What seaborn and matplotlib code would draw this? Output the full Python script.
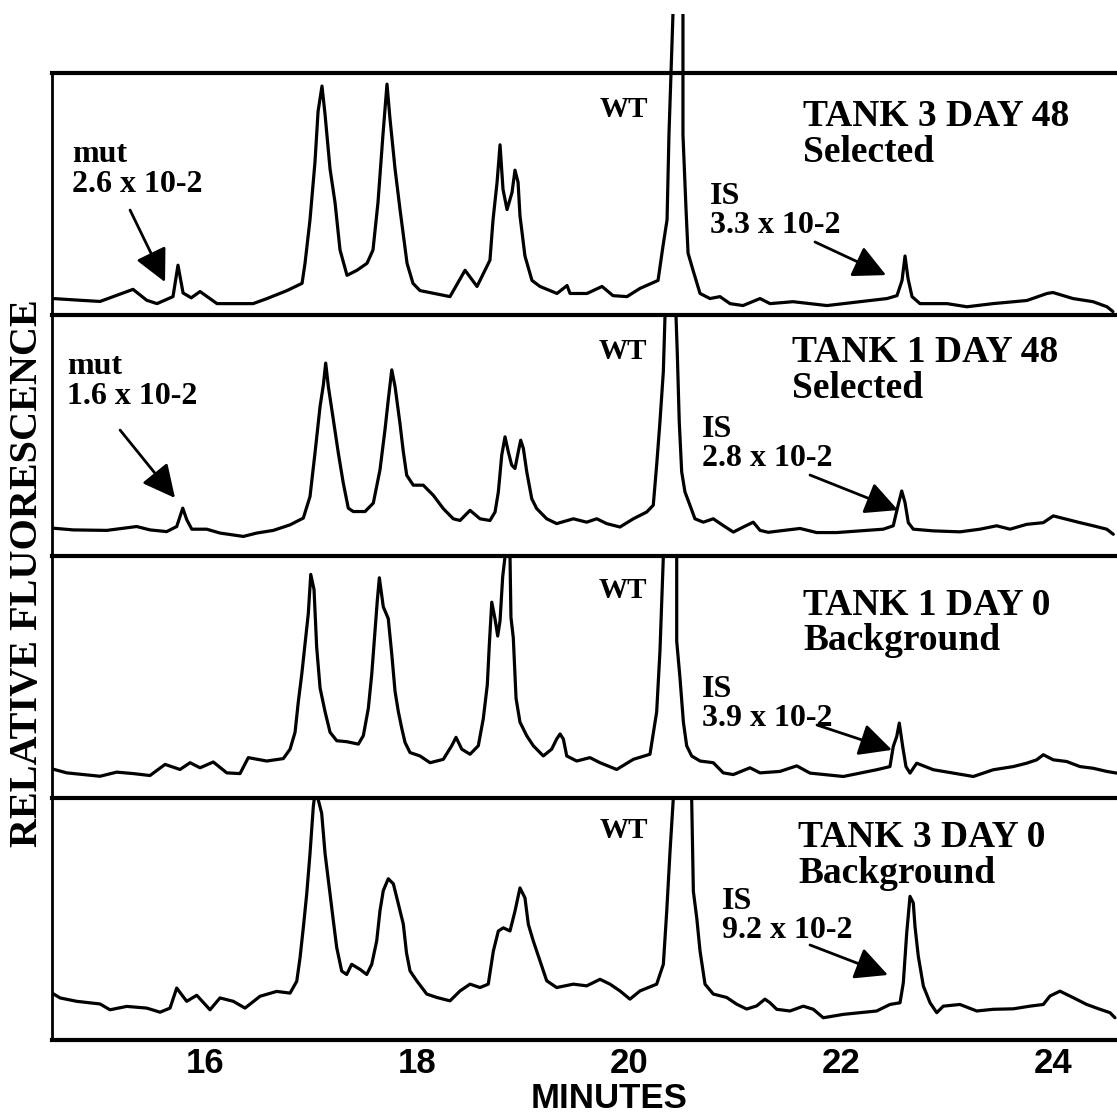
import matplotlib
matplotlib.use("Agg")
import matplotlib.pyplot as plt
import seaborn as sns
import pandas as pd
from matplotlib.transforms import Bbox, TransformedBbox

sns.set_theme(style="white")
plt.rcParams["font.family"] = ["Liberation Serif", "DejaVu Serif"]
plt.rcParams["text.color"] = "black"
plt.rcParams["xtick.color"] = "black"
plt.rcParams["xtick.labelcolor"] = "black"

# ---------------- data (minutes, relative fluorescence as fraction of panel) -------------
t1_min = [14.567, 14.82, 15.01, 15.321, 15.45, 15.547, 15.698, 15.745, 15.793, 15.87, 15.953,
          16.113, 16.453, 16.585, 16.773, 16.915, 16.943, 16.99, 17.037, 17.066, 17.103, 17.132,
          17.179, 17.226, 17.273, 17.339, 17.433, 17.528, 17.584, 17.631, 17.678, 17.716, 17.744,
          17.792, 17.839, 17.905, 17.961, 18.027, 18.31, 18.452, 18.565, 18.687, 18.716, 18.754,
          18.782, 18.81, 18.848, 18.895, 18.923, 18.952, 18.97, 19.017, 19.083, 19.159, 19.319,
          19.414, 19.442, 19.602, 19.744, 19.847, 19.979, 20.102, 20.272, 20.319, 20.357, 20.375,
          20.413, 20.46, 20.507, 20.507, 20.536, 20.555, 20.602, 20.668, 20.762, 20.856, 20.951,
          21.073, 21.234, 21.328, 21.545, 21.865, 22.176, 22.431, 22.525, 22.573, 22.601, 22.629,
          22.667, 22.742, 22.997, 23.185, 23.43, 23.751, 23.94, 23.996, 24.185, 24.374, 24.506,
          24.562]
t1_sig = [0.067, 0.06, 0.055, 0.105, 0.06, 0.046, 0.075, 0.205, 0.09, 0.07, 0.096,
          0.046, 0.046, 0.067, 0.10, 0.13, 0.213, 0.393, 0.632, 0.841, 0.946, 0.828,
          0.603, 0.464, 0.268, 0.163, 0.184, 0.213, 0.268, 0.464, 0.745, 0.954, 0.812,
          0.603, 0.435, 0.213, 0.130, 0.10, 0.075, 0.184, 0.117, 0.226, 0.393, 0.548,
          0.703, 0.519, 0.435, 0.506, 0.598, 0.548, 0.410, 0.243, 0.142, 0.117, 0.088,
          0.121, 0.088, 0.088, 0.117, 0.079, 0.075, 0.109, 0.142, 0.285, 0.393, 0.745,
          1.247, 1.6, 1.247, 0.745, 0.435, 0.255, 0.184, 0.088, 0.067, 0.075, 0.046,
          0.038, 0.067, 0.046, 0.054, 0.038, 0.054, 0.067, 0.079, 0.142, 0.243, 0.151,
          0.075, 0.046, 0.046, 0.033, 0.046, 0.059, 0.088, 0.092, 0.067, 0.054, 0.033,
          0.013]

t2_min = [14.570, 14.758, 15.073, 15.356, 15.481, 15.639, 15.733, 15.790, 15.828, 15.875, 16.016,
          16.141, 16.361, 16.488, 16.644, 16.802, 16.927, 16.990, 17.037, 17.085, 17.116, 17.138,
          17.163, 17.210, 17.257, 17.304, 17.351, 17.398, 17.509, 17.587, 17.650, 17.697, 17.728,
          17.761, 17.792, 17.839, 17.870, 17.902, 17.964, 18.058, 18.153, 18.247, 18.341, 18.405,
          18.499, 18.593, 18.687, 18.735, 18.766, 18.798, 18.829, 18.860, 18.892, 18.923, 18.954,
          18.977, 19.002, 19.034, 19.081, 19.128, 19.222, 19.316, 19.473, 19.599, 19.694, 19.788,
          19.913, 20.039, 20.165, 20.227, 20.259, 20.290, 20.322, 20.338, 20.39, 20.441, 20.454,
          20.472, 20.495, 20.526, 20.573, 20.620, 20.699, 20.793, 20.887, 20.982, 21.076, 21.170,
          21.234, 21.312, 21.422, 21.611, 21.768, 21.956, 22.176, 22.396, 22.490, 22.538, 22.570,
          22.601, 22.632, 22.679, 22.868, 23.119, 23.308, 23.465, 23.591, 23.748, 23.905, 23.999,
          24.125, 24.251, 24.376, 24.503, 24.565]
t2_sig = [0.117, 0.110, 0.108, 0.124, 0.110, 0.103, 0.124, 0.200, 0.152, 0.113, 0.113,
          0.097, 0.083, 0.097, 0.108, 0.131, 0.159, 0.248, 0.428, 0.621, 0.710, 0.800,
          0.703, 0.566, 0.428, 0.303, 0.200, 0.186, 0.186, 0.221, 0.359, 0.524, 0.648,
          0.772, 0.703, 0.548, 0.433, 0.336, 0.295, 0.295, 0.253, 0.198, 0.156, 0.149,
          0.191, 0.156, 0.149, 0.184, 0.267, 0.419, 0.495, 0.433, 0.378, 0.364, 0.433,
          0.481, 0.447, 0.350, 0.239, 0.198, 0.156, 0.136, 0.156, 0.142, 0.156, 0.136,
          0.122, 0.156, 0.184, 0.212, 0.378, 0.557, 0.765, 1.0, 1.6, 1.0, 0.834,
          0.557, 0.350, 0.267, 0.212, 0.156, 0.142, 0.156, 0.128, 0.101, 0.122, 0.142,
          0.108, 0.100, 0.106, 0.116, 0.099, 0.099, 0.106, 0.113, 0.127, 0.216, 0.271,
          0.223, 0.140, 0.113, 0.106, 0.102, 0.113, 0.127, 0.113, 0.133, 0.140, 0.168,
          0.154, 0.140, 0.127, 0.113, 0.092]

t3_min = [14.554, 14.696, 14.853, 15.010, 15.167, 15.324, 15.481, 15.623, 15.764, 15.859, 15.953,
          16.078, 16.205, 16.330, 16.408, 16.582, 16.738, 16.802, 16.849, 16.880, 16.912, 16.943,
          16.974, 16.997, 17.028, 17.053, 17.085, 17.132, 17.179, 17.242, 17.336, 17.446, 17.493,
          17.540, 17.572, 17.603, 17.625, 17.644, 17.681, 17.728, 17.761, 17.792, 17.823, 17.855,
          17.886, 17.933, 18.027, 18.122, 18.247, 18.326, 18.367, 18.421, 18.499, 18.577, 18.624,
          18.662, 18.681, 18.704, 18.735, 18.760, 18.782, 18.807, 18.829, 18.85, 18.876, 18.885,
          18.907, 18.933, 18.970, 19.033, 19.096, 19.190, 19.269, 19.316, 19.348, 19.379, 19.411,
          19.505, 19.630, 19.725, 19.882, 20.039, 20.196, 20.259, 20.290, 20.322, 20.385, 20.448,
          20.448, 20.479, 20.511, 20.542, 20.589, 20.668, 20.793, 20.887, 20.982, 21.139, 21.234,
          21.422, 21.580, 21.705, 21.862, 22.019, 22.176, 22.334, 22.459, 22.490, 22.523, 22.547,
          22.579, 22.610, 22.648, 22.711, 22.868, 23.056, 23.245, 23.434, 23.622, 23.748, 23.843,
          23.905, 23.999, 24.125, 24.251, 24.376, 24.503, 24.597]
t3_sig = [0.122, 0.105, 0.098, 0.091, 0.108, 0.102, 0.094, 0.140, 0.119, 0.147, 0.126,
          0.150, 0.105, 0.102, 0.168, 0.154, 0.164, 0.203, 0.273, 0.400, 0.512, 0.638,
          0.764, 0.926, 0.863, 0.624, 0.456, 0.358, 0.273, 0.238, 0.234, 0.224, 0.259,
          0.372, 0.512, 0.694, 0.820, 0.912, 0.792, 0.743, 0.596, 0.442, 0.358, 0.290,
          0.231, 0.189, 0.175, 0.147, 0.161, 0.217, 0.252, 0.203, 0.182, 0.217, 0.329,
          0.469, 0.636, 0.811, 0.741, 0.671, 0.734, 0.916, 1.0, 1.3, 1.0, 0.748,
          0.664, 0.413, 0.315, 0.259, 0.217, 0.175, 0.203, 0.245, 0.266, 0.245, 0.175,
          0.154, 0.168, 0.147, 0.119, 0.161, 0.182, 0.357, 0.608, 1.0, 1.6, 1.0,
          0.650, 0.497, 0.315, 0.217, 0.175, 0.154, 0.147, 0.105, 0.098, 0.126, 0.105,
          0.111, 0.134, 0.104, 0.097, 0.090, 0.104, 0.118, 0.131, 0.214, 0.256, 0.311,
          0.214, 0.131, 0.104, 0.145, 0.118, 0.104, 0.090, 0.118, 0.131, 0.145, 0.159,
          0.180, 0.159, 0.152, 0.131, 0.124, 0.111, 0.104]

t4_min = [14.532, 14.633, 14.790, 15.010, 15.104, 15.262, 15.450, 15.576, 15.670, 15.733, 15.827,
          15.922, 16.047, 16.141, 16.267, 16.377, 16.519, 16.676, 16.802, 16.865, 16.896, 16.927,
          16.959, 16.990, 17.021, 17.045, 17.068, 17.100, 17.132, 17.179, 17.210, 17.242, 17.289,
          17.336, 17.383, 17.462, 17.525, 17.572, 17.619, 17.650, 17.681, 17.728, 17.776, 17.823,
          17.870, 17.90, 17.933, 17.996, 18.091, 18.185, 18.310, 18.405, 18.499, 18.593, 18.671,
          18.719, 18.766, 18.813, 18.876, 18.923, 18.970, 19.017, 19.049, 19.096, 19.159, 19.222,
          19.316, 19.473, 19.599, 19.725, 19.819, 19.913, 20.007, 20.102, 20.259, 20.322, 20.354,
          20.385, 20.416, 20.50, 20.589, 20.605, 20.637, 20.668, 20.715, 20.793, 20.919, 21.014,
          21.108, 21.202, 21.280, 21.328, 21.391, 21.516, 21.642, 21.736, 21.830, 22.019, 22.176,
          22.334, 22.459, 22.554, 22.585, 22.617, 22.648, 22.679, 22.695, 22.726, 22.774, 22.837,
          22.900, 22.962, 23.119, 23.277, 23.434, 23.622, 23.779, 23.905, 23.968, 24.062, 24.188,
          24.314, 24.440, 24.534, 24.581]
t4_sig = [0.201, 0.174, 0.160, 0.149, 0.125, 0.139, 0.132, 0.115, 0.132, 0.215, 0.160,
          0.185, 0.125, 0.174, 0.160, 0.132, 0.181, 0.201, 0.194, 0.243, 0.340, 0.465,
          0.604, 0.771, 0.965, 1.05, 0.993, 0.938, 0.771, 0.604, 0.493, 0.382, 0.285,
          0.271, 0.313, 0.292, 0.271, 0.313, 0.410, 0.535, 0.618, 0.667, 0.646, 0.563,
          0.479, 0.360, 0.286, 0.245, 0.190, 0.176, 0.162, 0.203, 0.231, 0.217, 0.231,
          0.368, 0.451, 0.464, 0.451, 0.533, 0.629, 0.588, 0.478, 0.409, 0.327, 0.245,
          0.217, 0.231, 0.224, 0.251, 0.231, 0.203, 0.169, 0.203, 0.231, 0.313, 0.533,
          0.780, 1.0, 1.6, 1.0, 0.615, 0.505, 0.368, 0.231, 0.190, 0.176, 0.148,
          0.128, 0.141, 0.169, 0.154, 0.127, 0.120, 0.140, 0.127, 0.092, 0.106, 0.113,
          0.120, 0.147, 0.154, 0.237, 0.443, 0.594, 0.567, 0.470, 0.347, 0.223, 0.154,
          0.113, 0.140, 0.147, 0.120, 0.127, 0.129, 0.140, 0.147, 0.182, 0.202, 0.175,
          0.147, 0.127, 0.113, 0.092]

panel_titles = ["TANK 3 DAY 48\nSelected", "TANK 1 DAY 48\nSelected",
                "TANK 1 DAY 0\nBackground", "TANK 3 DAY 0\nBackground"]
is_labels = ["IS\n3.3 x 10-2", "IS\n2.8 x 10-2", "IS\n3.9 x 10-2", "IS\n9.2 x 10-2"]
mut_labels = ["mut\n2.6 x 10-2", "mut\n1.6 x 10-2", None, None]
wt_label = "WT"
x_ticks = [16, 18, 20, 22, 24]
x_label = "MINUTES"
y_label = "RELATIVE FLUORESCENCE"

traces = [(t1_min, t1_sig), (t2_min, t2_sig), (t3_min, t3_sig), (t4_min, t4_sig)]

# ---------------- layout (positions only) ----------------
W, H = 1117, 1114
fig = plt.figure(figsize=(W / 100, H / 100), dpi=100)
left_px, top_px, ph = 52, 73, 241.75
x_lim = (14.557, 24.60)

title_pos = [(21.639, 0.892), (21.535, 0.916), (21.639, 0.870), (21.592, 0.910)]
wt_pos = [(19.951, 0.905), (19.942, 0.904), (19.942, 0.915), (19.951, 0.922)]
is_pos = [(20.762, 0.549), (20.687, 0.585), (20.687, 0.510), (20.875, 0.633)]
is_arrow = [((21.752, 0.301), (22.422, 0.164)), ((21.705, 0.337), (22.535, 0.192)),
            ((21.771, 0.303), (22.478, 0.200)), ((21.705, 0.393), (22.440, 0.269))]
mut_pos = [(14.746, 0.723), (14.699, 0.846), None, None]
mut_arrow = [((15.293, 0.433), (15.623, 0.135)), ((15.199, 0.523), (15.717, 0.242)), None, None]
clip_top = [1.245, 1.0, 1.0, 1.0]

arrow_style = "-|>,head_length=1.0,head_width=0.5"

for i, (xm, ys) in enumerate(traces):
    bottom_px = top_px + ph * (i + 1)
    ax = fig.add_axes([left_px / W, 1 - bottom_px / H, 1 - left_px / W, ph / H])
    df = pd.DataFrame({"minutes": xm, "signal": ys})
    sns.lineplot(data=df, x="minutes", y="signal", sort=False, estimator=None,
                 color="black", lw=2.3, ax=ax)
    line = ax.lines[-1]
    line.set_clip_box(TransformedBbox(Bbox([[0, 0], [1, clip_top[i]]]), ax.transAxes))
    ax.set_xlim(*x_lim)
    ax.set_ylim(0, 1)
    ax.set_xlabel("")
    ax.set_ylabel("")
    ax.set_yticks([])
    ax.spines["right"].set_visible(False)
    ax.spines["top"].set_linewidth(3.0)
    ax.spines["left"].set_linewidth(2.0)
    for s in ["top", "left", "bottom"]:
        ax.spines[s].set_color("black")
    if i < 3:
        ax.spines["bottom"].set_visible(False)
        ax.set_xticks([])
    else:
        ax.spines["bottom"].set_linewidth(3.0)
        ax.set_xticks(x_ticks)
        ax.set_xticklabels([str(t) for t in x_ticks], family="Liberation Sans",
                           weight="bold", size=25, color="black")
        ax.tick_params(axis="x", length=0, pad=5)

    ax.text(*title_pos[i], panel_titles[i], ha="left", va="top", size=27,
            weight="bold", linespacing=1.02, color="black")
    ax.text(*wt_pos[i], wt_label, ha="center", va="top", size=21, weight="bold",
            color="black")
    ax.text(*is_pos[i], is_labels[i], ha="left", va="top", size=23,
            weight="bold", linespacing=1.0, color="black")
    ax.annotate("", xy=is_arrow[i][1], xytext=is_arrow[i][0],
                arrowprops=dict(arrowstyle=arrow_style, lw=2.0, color="black",
                                mutation_scale=20, shrinkA=0, shrinkB=0))
    if mut_labels[i] is not None:
        ax.text(*mut_pos[i], mut_labels[i], ha="left", va="top", size=23,
                weight="bold", linespacing=1.05, color="black")
        ax.annotate("", xy=mut_arrow[i][1], xytext=mut_arrow[i][0],
                    arrowprops=dict(arrowstyle=arrow_style, lw=2.0, color="black",
                                    mutation_scale=20, shrinkA=0, shrinkB=0))

fig.text(28 / W, 1 - 573 / H, y_label, rotation=90, ha="center", va="center",
         size=29, family="Liberation Serif", weight="bold", color="black")
fig.text(609 / W, 1 - 1098 / H, x_label, ha="center", va="center", size=25,
         family="Liberation Sans", weight="bold", color="black")

fig.savefig("out.png", dpi=100, facecolor="white")
